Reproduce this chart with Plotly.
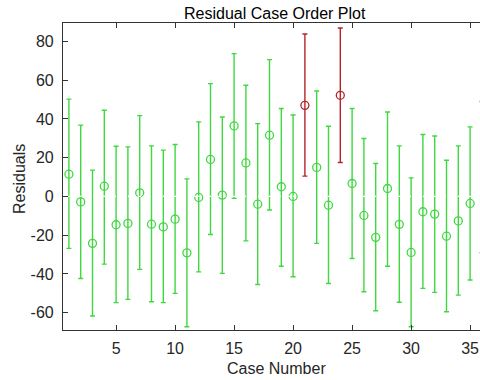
import plotly.graph_objects as go

cases = list(range(1, 37))
residuals = [11.5, -2.8, -24.2, 5.3, -14.6, -13.9, 1.9, -14.3, -15.7, -11.7,
             -29.1, -0.5, 19.1, 0.7, 36.4, 17.3, -4.0, 31.6, 5.0, 0.0,
             47.0, 15.0, -4.5, 52.2, 6.7, -9.8, -21.1, 4.1, -14.4, -28.9,
             -7.9, -9.1, -20.5, -12.6, -3.6, 10.0]
upper = [50.2, 36.8, 13.6, 44.5, 25.9, 25.6, 41.7, 26.1, 23.9, 26.8,
         9.1, 38.5, 58.2, 41.0, 73.7, 57.4, 37.6, 70.6, 45.4, 42.0,
         83.8, 54.4, 36.2, 86.9, 45.4, 29.9, 17.0, 43.6, 26.1, 9.6,
         32.0, 31.2, 18.7, 26.1, 35.9, 49.0]
lower = [-26.8, -42.3, -61.7, -34.9, -54.8, -53.1, -37.6, -54.3, -54.8, -50.0,
         -67.2, -38.9, -19.6, -39.7, -1.0, -22.9, -45.4, -7.0, -36.0, -41.4,
         10.5, -24.2, -44.9, 17.5, -32.0, -49.2, -59.0, -36.0, -54.6, -67.2,
         -47.4, -49.5, -59.5, -50.9, -43.1, -29.0]

x_ticks = [5, 10, 15, 20, 25, 30, 35]
y_ticks = [-60, -40, -20, 0, 20, 40, 60, 80]
y_tick_labels = ["-60", "-40", "-20", "0", "20", "40", "60", "80"]

GREEN = "#40d840"
RED = "#b3262b"
FONT = "Liberation Sans, Arial, sans-serif"
TXT = "#262626"
FS = 16

fig = go.Figure()

def add_group(mask, color):
    xs = [c for c, m in zip(cases, mask) if m]
    ys = [r for r, m in zip(residuals, mask) if m]
    up = [u - r for u, r, m in zip(upper, residuals, mask) if m]
    dn = [r - l for l, r, m in zip(lower, residuals, mask) if m]
    fig.add_trace(go.Scatter(
        x=xs, y=ys, mode="markers", cliponaxis=False,
        marker=dict(symbol="circle-open", size=8, color=color, line=dict(width=1.3, color=color)),
        error_y=dict(type="data", symmetric=False, array=up, arrayminus=dn,
                     color=color, thickness=1.4, width=2.5),
        showlegend=False,
    ))

outlier = [(l > 0) or (u < 0) for l, u in zip(lower, upper)]
add_group([not o for o in outlier], GREEN)
add_group(outlier, RED)

# zero reference line (white dashed, drawn over the bars)
fig.add_trace(go.Scatter(
    x=[0.5, 37.5], y=[0, 0], mode="lines", cliponaxis=True,
    line=dict(color="white", width=1.3, dash="3px,2px"), showlegend=False, hoverinfo="skip",
))

fig.update_layout(
    width=480, height=380,
    margin=dict(l=63, r=0, t=23, b=50),
    paper_bgcolor="white", plot_bgcolor="white",
    font=dict(family=FONT, size=FS, color=TXT),
    xaxis=dict(range=[0.5, 0.5 + 417 / 11.8], tickvals=x_ticks, ticks="inside", ticklen=5,
               tickcolor="#333333", showline=True, linecolor="#333333", linewidth=1.2,
               mirror="ticks", showgrid=False, zeroline=False,
               tickfont=dict(size=FS, color=TXT), ticklabelstandoff=4),
    yaxis=dict(range=[-68.9, 89.5], tickvals=y_ticks, ticktext=y_tick_labels,
               ticks="inside", ticklen=5,
               tickcolor="#333333", showline=True, linecolor="#333333", linewidth=1.2,
               mirror=False, showgrid=False, zeroline=False,
               tickfont=dict(size=FS, color=TXT), ticklabelstandoff=5),
    annotations=[
        dict(text="Residual Case Order Plot", xref="paper", yref="paper",
             x=(275 - 63) / 417, y=1 + (23 - 13.5) / 307, xanchor="center", yanchor="middle",
             showarrow=False, font=dict(size=FS, color="#000000")),
        dict(text="Case Number", xref="paper", yref="paper",
             x=(276 - 63) / 417, y=-(368 - 330) / 307, xanchor="center", yanchor="middle",
             showarrow=False, font=dict(size=FS, color=TXT)),
        dict(text="Residuals", xref="paper", yref="paper", textangle=-90,
             x=-(63 - 19) / 417, y=(330 - 179) / 307, xanchor="center", yanchor="middle",
             showarrow=False, font=dict(size=FS, color=TXT)),
    ],
)

fig.write_html("out.html")
